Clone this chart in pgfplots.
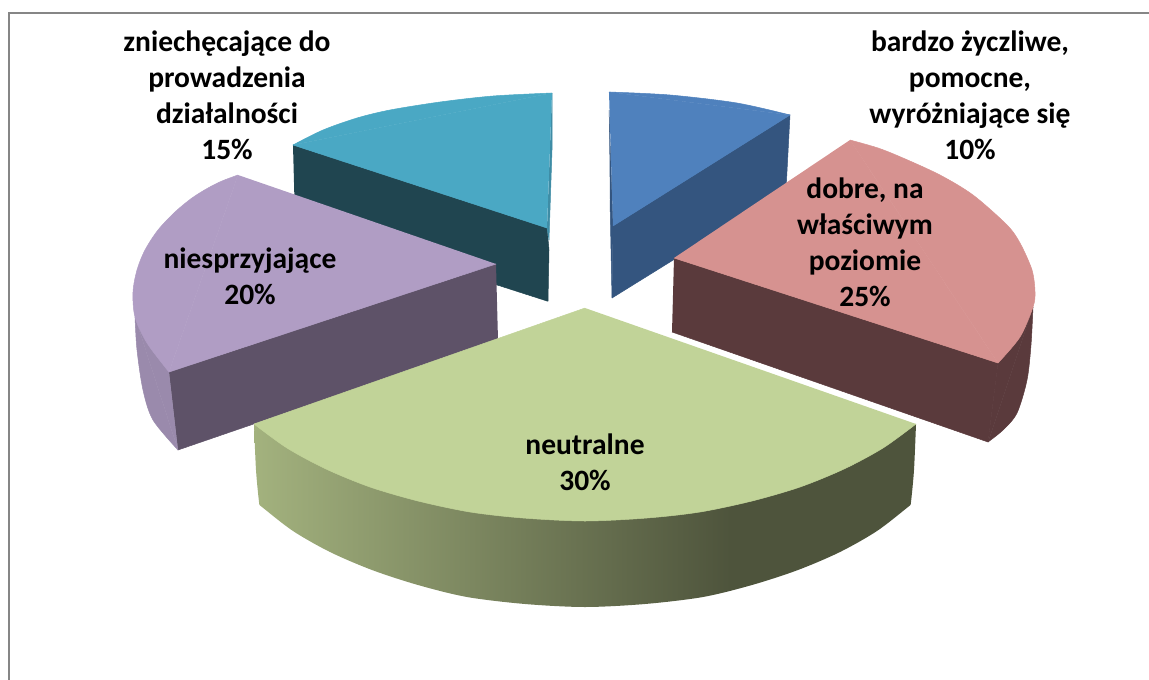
\documentclass[border=0pt]{standalone}
\usepackage{fontspec}
\setmainfont{Carlito}
\usepackage{pgfplots}
\pgfplotsset{compat=1.18}

\definecolor{blueTop}{RGB}{79,129,189}
\definecolor{blueCut}{RGB}{52,85,127}
\definecolor{pinkTop}{RGB}{214,146,144}
\definecolor{pinkCut}{RGB}{90,58,60}
\definecolor{greenTop}{RGB}{193,211,152}
\definecolor{greenLight}{RGB}{163,178,126}
\definecolor{greenDark}{RGB}{78,84,60}
\definecolor{purpleTop}{RGB}{176,157,196}
\definecolor{purpleCut}{RGB}{94,82,104}
\definecolor{purpleSide}{RGB}{154,138,172}
\definecolor{tealTop}{RGB}{74,168,196}
\definecolor{tealCut}{RGB}{32,69,80}
\definecolor{tealEdge}{RGB}{62,140,165}
\definecolor{frameGray}{RGB}{134,134,134}

% side of the big slice: flat light part at the left, dark from about 72% on
\pgfdeclarehorizontalshading{greenside}{100bp}{
    color(0bp)=(greenLight); color(25bp)=(greenLight);
    color(61bp)=(greenDark); color(100bp)=(greenDark)}

\tikzset{
    % thin outline in the fill colour hides the seam between polygon and rim
    slice/.style={draw=#1, line width=0.5pt, line join=round, fill=#1, mark=none},
    arc/.style={draw=#1, line width=0.5pt, line join=round, fill=#1, mark=none, smooth}, % rim of a slice, filled up to its chord
    lab/.style={font=\fontsize{29.5}{36}\selectfont\bfseries, align=center, text=black, inner sep=0pt},
}

\begin{document}
\begin{tikzpicture}
\useasboundingbox (0,0) rectangle (1149pt,680pt);
\begin{axis}[
    at={(0,0)}, anchor=south west,
    scale only axis,
    width=1149pt, height=680pt,
    xmin=0, xmax=1149, ymin=0, ymax=680,
    y dir=reverse,
    axis lines=none,
]
% frame, only top and left are in the crop
\addplot[draw=frameGray, line width=2pt, mark=none] coordinates {(1149,13) (9,13) (9,680)};

% blue, 10%
\addplot[slice=blueCut] coordinates {(613,226) (790,115) (786,190) (612,298)};
\addplot[slice=blueCut] coordinates {(609,110) (613,226) (612,298) (610,200)};
\addplot[slice=blueTop] coordinates {(609,92) (790,115) (613,226)};
\addplot[arc=blueTop] coordinates {(609,92) (670,95) (737,103) (790,115)};

% teal, 15%
\addplot[slice=tealCut] coordinates {(293,145) (547,228) (549,250) (548,301) (547,301) (295,220)};
\addplot[slice=tealEdge] coordinates {(552,93) (552,150) (549,240) (547,228)};
\addplot[slice=tealTop] coordinates {(552,93) (293,145) (547,228)};
\addplot[arc=tealTop] coordinates {(552,93) (493,96) (440,102) (390,110) (357,118) (323,130) (293,145)};

% purple, 20%
\addplot[slice=purpleCut] coordinates {(496,264) (169,372) (178,450) (498,340)};
\addplot[slice=purpleSide] coordinates {(178,450) (135,317) (169,372)};
\addplot[arc=purpleSide] coordinates {(135,317) (137,350) (143,390) (153,420) (178,450)};
\addplot[slice=purpleTop] coordinates {(238,175) (169,372) (496,264)};
\addplot[arc=purpleTop] coordinates {(238,175) (222,181) (208,188) (192,198) (175,212) (158,230) (145,250) (137,270) (133,292) (135,317) (147,343) (169,372)};

% pink, 25%
\addplot[slice=pinkCut] coordinates {(674,258) (998,363) (988,442) (672,332)};
\addplot[slice=pinkCut] coordinates {(1033,307) (988,442) (998,363)};
\addplot[arc=pinkCut] coordinates {(1033,307) (1031,345) (1027,380) (1017,413) (1003,430) (988,442)};
\addplot[slice=pinkTop] coordinates {(850,140) (998,363) (674,258)};
\addplot[arc=pinkTop] coordinates {(850,140) (878,148) (903,158) (940,175) (973,195) (1007,225) (1020,243) (1032,270) (1035,292) (1033,307) (1020,337) (998,363)};

% green, 30%: the chord of the side is covered by the top face
\addplot[draw=none, shade, shading=greenside, mark=none, smooth] coordinates {
    (916,424) (914,470) (911,502) (910,505) (908,507)
    (877,531) (840,552) (798,570) (752,585) (703,597) (645,604) (585,607)
    (525,604) (467,597) (418,585) (372,570) (330,552) (293,531)
    (262,507) (260,505) (259,502) (256,470) (254,424)};
\addplot[slice=greenTop] coordinates {(916,424) (254,424) (585,308)};
\addplot[arc=greenTop] coordinates {
    (916,424) (883,448) (844,469) (800,487) (752,501) (700,512) (647,518) (585,521)
    (523,518) (470,512) (418,501) (370,487) (326,469) (287,448) (254,424)};

\node[lab] at (axis cs:227,95.5) {zniechęcające do\\prowadzenia\\działalności\\15\%};
\node[lab] at (axis cs:970,95.5) {bardzo życzliwe,\\pomocne,\\wyróżniające się\\10\%};
\node[lab] at (axis cs:865,242) {dobre, na\\właściwym\\poziomie\\25\%};
\node[lab] at (axis cs:250,276) {niesprzyjające\\20\%};
\node[lab] at (axis cs:585,462) {neutralne\\30\%};
\end{axis}
\end{tikzpicture}
\end{document}
